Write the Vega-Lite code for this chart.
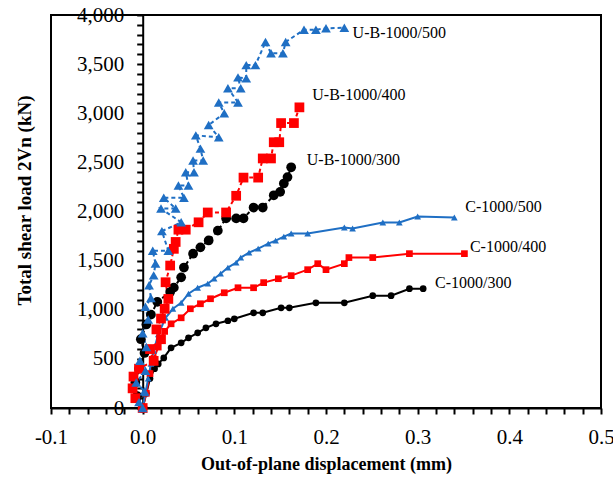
{
  "$schema": "https://vega.github.io/schema/vega-lite/v6.json",
  "width": 550,
  "height": 393,
  "autosize": {"type": "none"},
  "padding": {"left": 51, "top": 15, "right": 12, "bottom": 87},
  "background": "white",
  "config": {"view": {"stroke": "black", "strokeWidth": 2}, "font": "Liberation Serif"},
  "datasets": {
    "curves": [
      {"series": "C-1000/300", "x": 0, "y": 0},
      {"series": "C-1000/300", "x": 0.004, "y": 150},
      {"series": "C-1000/300", "x": 0.008, "y": 300},
      {"series": "C-1000/300", "x": 0.013, "y": 400},
      {"series": "C-1000/300", "x": 0.017, "y": 449},
      {"series": "C-1000/300", "x": 0.023, "y": 510},
      {"series": "C-1000/300", "x": 0.031, "y": 612},
      {"series": "C-1000/300", "x": 0.042, "y": 663},
      {"series": "C-1000/300", "x": 0.05, "y": 714},
      {"series": "C-1000/300", "x": 0.06, "y": 765},
      {"series": "C-1000/300", "x": 0.069, "y": 816},
      {"series": "C-1000/300", "x": 0.08, "y": 857},
      {"series": "C-1000/300", "x": 0.093, "y": 888},
      {"series": "C-1000/300", "x": 0.1, "y": 908},
      {"series": "C-1000/300", "x": 0.121, "y": 969},
      {"series": "C-1000/300", "x": 0.131, "y": 969},
      {"series": "C-1000/300", "x": 0.151, "y": 1020},
      {"series": "C-1000/300", "x": 0.16, "y": 1020},
      {"series": "C-1000/300", "x": 0.189, "y": 1071},
      {"series": "C-1000/300", "x": 0.22, "y": 1071},
      {"series": "C-1000/300", "x": 0.251, "y": 1143},
      {"series": "C-1000/300", "x": 0.271, "y": 1143},
      {"series": "C-1000/300", "x": 0.291, "y": 1214},
      {"series": "C-1000/300", "x": 0.306, "y": 1214},
      {"series": "C-1000/400", "x": 0, "y": 0},
      {"series": "C-1000/400", "x": 0.004, "y": 150},
      {"series": "C-1000/400", "x": 0.008, "y": 350},
      {"series": "C-1000/400", "x": 0.012, "y": 500},
      {"series": "C-1000/400", "x": 0.017, "y": 620},
      {"series": "C-1000/400", "x": 0.02, "y": 704},
      {"series": "C-1000/400", "x": 0.024, "y": 780},
      {"series": "C-1000/400", "x": 0.031, "y": 857},
      {"series": "C-1000/400", "x": 0.042, "y": 918},
      {"series": "C-1000/400", "x": 0.052, "y": 1010},
      {"series": "C-1000/400", "x": 0.063, "y": 1061},
      {"series": "C-1000/400", "x": 0.074, "y": 1112},
      {"series": "C-1000/400", "x": 0.089, "y": 1173},
      {"series": "C-1000/400", "x": 0.104, "y": 1224},
      {"series": "C-1000/400", "x": 0.121, "y": 1224},
      {"series": "C-1000/400", "x": 0.132, "y": 1276},
      {"series": "C-1000/400", "x": 0.148, "y": 1316},
      {"series": "C-1000/400", "x": 0.162, "y": 1347},
      {"series": "C-1000/400", "x": 0.18, "y": 1408},
      {"series": "C-1000/400", "x": 0.191, "y": 1469},
      {"series": "C-1000/400", "x": 0.2, "y": 1408},
      {"series": "C-1000/400", "x": 0.22, "y": 1469},
      {"series": "C-1000/400", "x": 0.225, "y": 1531},
      {"series": "C-1000/400", "x": 0.251, "y": 1531},
      {"series": "C-1000/400", "x": 0.291, "y": 1571},
      {"series": "C-1000/400", "x": 0.351, "y": 1571},
      {"series": "C-1000/500", "x": 0, "y": 0},
      {"series": "C-1000/500", "x": 0.003, "y": 150},
      {"series": "C-1000/500", "x": 0.006, "y": 300},
      {"series": "C-1000/500", "x": 0.009, "y": 450},
      {"series": "C-1000/500", "x": 0.012, "y": 582},
      {"series": "C-1000/500", "x": 0.017, "y": 750},
      {"series": "C-1000/500", "x": 0.025, "y": 918},
      {"series": "C-1000/500", "x": 0.033, "y": 1010},
      {"series": "C-1000/500", "x": 0.042, "y": 1071},
      {"series": "C-1000/500", "x": 0.05, "y": 1163},
      {"series": "C-1000/500", "x": 0.06, "y": 1224},
      {"series": "C-1000/500", "x": 0.071, "y": 1265},
      {"series": "C-1000/500", "x": 0.078, "y": 1316},
      {"series": "C-1000/500", "x": 0.085, "y": 1367},
      {"series": "C-1000/500", "x": 0.093, "y": 1429},
      {"series": "C-1000/500", "x": 0.102, "y": 1480},
      {"series": "C-1000/500", "x": 0.107, "y": 1531},
      {"series": "C-1000/500", "x": 0.116, "y": 1582},
      {"series": "C-1000/500", "x": 0.126, "y": 1622},
      {"series": "C-1000/500", "x": 0.137, "y": 1673},
      {"series": "C-1000/500", "x": 0.145, "y": 1704},
      {"series": "C-1000/500", "x": 0.154, "y": 1745},
      {"series": "C-1000/500", "x": 0.162, "y": 1776},
      {"series": "C-1000/500", "x": 0.18, "y": 1776},
      {"series": "C-1000/500", "x": 0.22, "y": 1837},
      {"series": "C-1000/500", "x": 0.229, "y": 1827},
      {"series": "C-1000/500", "x": 0.262, "y": 1888},
      {"series": "C-1000/500", "x": 0.28, "y": 1888},
      {"series": "C-1000/500", "x": 0.3, "y": 1949},
      {"series": "C-1000/500", "x": 0.34, "y": 1939},
      {"series": "U-B-1000/300", "x": 0, "y": 0},
      {"series": "U-B-1000/300", "x": -0.006, "y": 120},
      {"series": "U-B-1000/300", "x": -0.008, "y": 260},
      {"series": "U-B-1000/300", "x": -0.004, "y": 400},
      {"series": "U-B-1000/300", "x": 0.002, "y": 560},
      {"series": "U-B-1000/300", "x": -0.002, "y": 700},
      {"series": "U-B-1000/300", "x": 0.004, "y": 850},
      {"series": "U-B-1000/300", "x": 0.009, "y": 950},
      {"series": "U-B-1000/300", "x": 0.016, "y": 1080},
      {"series": "U-B-1000/300", "x": 0.03, "y": 1180},
      {"series": "U-B-1000/300", "x": 0.034, "y": 1225},
      {"series": "U-B-1000/300", "x": 0.042, "y": 1330},
      {"series": "U-B-1000/300", "x": 0.045, "y": 1430},
      {"series": "U-B-1000/300", "x": 0.055, "y": 1570},
      {"series": "U-B-1000/300", "x": 0.063, "y": 1635},
      {"series": "U-B-1000/300", "x": 0.072, "y": 1705},
      {"series": "U-B-1000/300", "x": 0.082, "y": 1805},
      {"series": "U-B-1000/300", "x": 0.091, "y": 1930},
      {"series": "U-B-1000/300", "x": 0.102, "y": 1930},
      {"series": "U-B-1000/300", "x": 0.11, "y": 1930},
      {"series": "U-B-1000/300", "x": 0.121, "y": 2040},
      {"series": "U-B-1000/300", "x": 0.131, "y": 2040},
      {"series": "U-B-1000/300", "x": 0.143, "y": 2165},
      {"series": "U-B-1000/300", "x": 0.15, "y": 2200},
      {"series": "U-B-1000/300", "x": 0.154, "y": 2285},
      {"series": "U-B-1000/300", "x": 0.158, "y": 2350},
      {"series": "U-B-1000/300", "x": 0.162, "y": 2450},
      {"series": "U-B-1000/400", "x": 0, "y": 0},
      {"series": "U-B-1000/400", "x": -0.008, "y": 100},
      {"series": "U-B-1000/400", "x": -0.011, "y": 200},
      {"series": "U-B-1000/400", "x": -0.01, "y": 320},
      {"series": "U-B-1000/400", "x": -0.004, "y": 400},
      {"series": "U-B-1000/400", "x": 0.012, "y": 480},
      {"series": "U-B-1000/400", "x": 0.008, "y": 600},
      {"series": "U-B-1000/400", "x": 0.02, "y": 700},
      {"series": "U-B-1000/400", "x": 0.015, "y": 800},
      {"series": "U-B-1000/400", "x": 0.02, "y": 910},
      {"series": "U-B-1000/400", "x": 0.024, "y": 1010},
      {"series": "U-B-1000/400", "x": 0.028, "y": 1110},
      {"series": "U-B-1000/400", "x": 0.025, "y": 1280},
      {"series": "U-B-1000/400", "x": 0.03, "y": 1450},
      {"series": "U-B-1000/400", "x": 0.034, "y": 1620},
      {"series": "U-B-1000/400", "x": 0.036, "y": 1690},
      {"series": "U-B-1000/400", "x": 0.039, "y": 1815},
      {"series": "U-B-1000/400", "x": 0.047, "y": 1815},
      {"series": "U-B-1000/400", "x": 0.061, "y": 1890},
      {"series": "U-B-1000/400", "x": 0.071, "y": 1990},
      {"series": "U-B-1000/400", "x": 0.091, "y": 1990},
      {"series": "U-B-1000/400", "x": 0.102, "y": 2160},
      {"series": "U-B-1000/400", "x": 0.11, "y": 2345},
      {"series": "U-B-1000/400", "x": 0.126, "y": 2345},
      {"series": "U-B-1000/400", "x": 0.131, "y": 2540},
      {"series": "U-B-1000/400", "x": 0.14, "y": 2540},
      {"series": "U-B-1000/400", "x": 0.143, "y": 2705},
      {"series": "U-B-1000/400", "x": 0.149, "y": 2705},
      {"series": "U-B-1000/400", "x": 0.151, "y": 2900},
      {"series": "U-B-1000/400", "x": 0.165, "y": 2900},
      {"series": "U-B-1000/400", "x": 0.171, "y": 3060},
      {"series": "U-B-1000/500", "x": 0, "y": 0},
      {"series": "U-B-1000/500", "x": -0.004, "y": 60},
      {"series": "U-B-1000/500", "x": 0.002, "y": 170},
      {"series": "U-B-1000/500", "x": -0.007, "y": 260},
      {"series": "U-B-1000/500", "x": 0.003, "y": 380},
      {"series": "U-B-1000/500", "x": -0.003, "y": 480},
      {"series": "U-B-1000/500", "x": 0.004, "y": 620},
      {"series": "U-B-1000/500", "x": 0, "y": 760},
      {"series": "U-B-1000/500", "x": 0.006, "y": 900},
      {"series": "U-B-1000/500", "x": 0.003, "y": 1030},
      {"series": "U-B-1000/500", "x": 0.009, "y": 1120},
      {"series": "U-B-1000/500", "x": 0.007, "y": 1250},
      {"series": "U-B-1000/500", "x": 0.012, "y": 1350},
      {"series": "U-B-1000/500", "x": 0.014, "y": 1470},
      {"series": "U-B-1000/500", "x": 0.011, "y": 1600},
      {"series": "U-B-1000/500", "x": 0.028, "y": 1600},
      {"series": "U-B-1000/500", "x": 0.021, "y": 1800},
      {"series": "U-B-1000/500", "x": 0.042, "y": 1890},
      {"series": "U-B-1000/500", "x": 0.02, "y": 2030},
      {"series": "U-B-1000/500", "x": 0.036, "y": 2030},
      {"series": "U-B-1000/500", "x": 0.023, "y": 2140},
      {"series": "U-B-1000/500", "x": 0.045, "y": 2140},
      {"series": "U-B-1000/500", "x": 0.039, "y": 2265},
      {"series": "U-B-1000/500", "x": 0.05, "y": 2265},
      {"series": "U-B-1000/500", "x": 0.047, "y": 2400},
      {"series": "U-B-1000/500", "x": 0.056, "y": 2400},
      {"series": "U-B-1000/500", "x": 0.055, "y": 2520},
      {"series": "U-B-1000/500", "x": 0.066, "y": 2520},
      {"series": "U-B-1000/500", "x": 0.063, "y": 2640},
      {"series": "U-B-1000/500", "x": 0.058, "y": 2775},
      {"series": "U-B-1000/500", "x": 0.083, "y": 2755},
      {"series": "U-B-1000/500", "x": 0.072, "y": 2880},
      {"series": "U-B-1000/500", "x": 0.089, "y": 3000},
      {"series": "U-B-1000/500", "x": 0.083, "y": 3110},
      {"series": "U-B-1000/500", "x": 0.104, "y": 3110},
      {"series": "U-B-1000/500", "x": 0.093, "y": 3255},
      {"series": "U-B-1000/500", "x": 0.107, "y": 3255},
      {"series": "U-B-1000/500", "x": 0.104, "y": 3365},
      {"series": "U-B-1000/500", "x": 0.113, "y": 3355},
      {"series": "U-B-1000/500", "x": 0.113, "y": 3490},
      {"series": "U-B-1000/500", "x": 0.123, "y": 3490},
      {"series": "U-B-1000/500", "x": 0.134, "y": 3725},
      {"series": "U-B-1000/500", "x": 0.14, "y": 3610},
      {"series": "U-B-1000/500", "x": 0.153, "y": 3610},
      {"series": "U-B-1000/500", "x": 0.156, "y": 3725},
      {"series": "U-B-1000/500", "x": 0.176, "y": 3850},
      {"series": "U-B-1000/500", "x": 0.189, "y": 3850},
      {"series": "U-B-1000/500", "x": 0.2, "y": 3865},
      {"series": "U-B-1000/500", "x": 0.22, "y": 3870}
    ],
    "labels": [
      {"label": "U-B-1000/500", "x": 0.229, "y": 3817},
      {"label": "U-B-1000/400", "x": 0.185, "y": 3186},
      {"label": "U-B-1000/300", "x": 0.179, "y": 2524},
      {"label": "C-1000/500", "x": 0.352, "y": 2046},
      {"label": "C-1000/400", "x": 0.357, "y": 1639},
      {"label": "C-1000/300", "x": 0.319, "y": 1272}
    ]
  },
  "layer": [
    {
      "data": {"name": "curves"},
      "transform": [{"filter": "indexof(datum.series, 'C-') == 0"}],
      "mark": {"type": "line", "strokeWidth": 2},
      "encoding": {
        "x": {
          "field": "x",
          "type": "quantitative",
          "scale": {"domain": [-0.1, 0.5], "nice": false, "zero": false},
          "axis": {
            "values": [-0.1, -0.08, -0.06, -0.04, -0.02, 0, 0.02, 0.04, 0.06, 0.08, 0.1, 0.12, 0.14, 0.16, 0.18, 0.2, 0.22, 0.24, 0.26, 0.28, 0.3, 0.32, 0.34, 0.36, 0.38, 0.4, 0.42, 0.44, 0.46, 0.48, 0.5],
            "tickCount": 100,
            "labelExpr": "abs(datum.value*10 - round(datum.value*10)) < 0.001 ? replace(format(datum.value, '.1f'), '\u2212', '-') : ''",
            "grid": false,
            "tickSize": 6,
            "tickWidth": 2,
            "tickColor": "black",
            "domainColor": "black",
            "domainWidth": 2,
            "labelFont": "Liberation Serif",
            "labelFontSize": 21,
            "labelColor": "black",
            "labelPadding": 12,
            "labelFlush": false,
            "labelOverlap": false,
            "labelBound": false,
            "title": "Out-of-plane displacement (mm)",
            "titleFont": "Liberation Serif",
            "titleFontSize": 18,
            "titleFontWeight": "bold",
            "titleColor": "black",
            "titlePadding": 8
          }
        },
        "y": {
          "field": "y",
          "type": "quantitative",
          "scale": {"domain": [0, 4000], "nice": false, "zero": false},
          "axis": {
            "values": [0, 100, 200, 300, 400, 500, 600, 700, 800, 900, 1000, 1100, 1200, 1300, 1400, 1500, 1600, 1700, 1800, 1900, 2000, 2100, 2200, 2300, 2400, 2500, 2600, 2700, 2800, 2900, 3000, 3100, 3200, 3300, 3400, 3500, 3600, 3700, 3800, 3900, 4000],
            "tickCount": 100,
            "labelExpr": "datum.value % 500 == 0 ? format(datum.value, ',') : ''",
            "offset": -91.7,
            "grid": false,
            "tickSize": 6,
            "tickWidth": 2,
            "tickColor": "black",
            "domainColor": "black",
            "domainWidth": 2,
            "labelFont": "Liberation Serif",
            "labelFontSize": 21,
            "labelColor": "black",
            "labelPadding": 13,
            "labelOverlap": false,
            "labelBound": false,
            "labelFlush": false,
            "title": "Total shear load   2Vn (kN)",
            "titleFont": "Liberation Serif",
            "titleFontSize": 19,
            "titleFontWeight": "bold",
            "titleColor": "black",
            "titleAngle": 270,
            "titleAlign": "center",
            "titleBaseline": "middle",
            "titleX": -118.7,
            "titleY": 185
          }
        },
        "color": {"field": "series", "type": "nominal", "legend": null,
          "scale": {"domain": ["C-1000/300", "C-1000/400", "C-1000/500", "U-B-1000/300", "U-B-1000/400", "U-B-1000/500"], "range": ["#000000", "#ff0000", "#1f6fc4", "#000000", "#ff0000", "#1f6fc4"]}},
        "order": {"value": null}
      }
    },
    {
      "data": {"name": "curves"},
      "transform": [{"filter": "indexof(datum.series, 'C-') == 0"}],
      "mark": {"type": "point", "filled": true, "opacity": 1, "size": 45},
      "encoding": {
        "x": {"field": "x", "type": "quantitative"},
        "y": {"field": "y", "type": "quantitative"},
        "color": {"field": "series", "type": "nominal", "legend": null},
        "shape": {"field": "series", "type": "nominal", "legend": null,
          "scale": {"domain": ["C-1000/300", "C-1000/400", "C-1000/500", "U-B-1000/300", "U-B-1000/400", "U-B-1000/500"], "range": ["circle", "square", "triangle-up", "circle", "square", "triangle-up"]}}
      }
    },
    {
      "data": {"name": "curves"},
      "transform": [{"filter": "indexof(datum.series, 'U-B') == 0"}],
      "mark": {"type": "line", "strokeWidth": 2, "strokeDash": [4, 3]},
      "encoding": {
        "x": {"field": "x", "type": "quantitative"},
        "y": {"field": "y", "type": "quantitative"},
        "color": {"field": "series", "type": "nominal", "legend": null},
        "order": {"value": null}
      }
    },
    {
      "data": {"name": "curves"},
      "transform": [{"filter": "indexof(datum.series, 'U-B') == 0"}],
      "mark": {"type": "point", "filled": true, "opacity": 1, "size": 95},
      "encoding": {
        "x": {"field": "x", "type": "quantitative"},
        "y": {"field": "y", "type": "quantitative"},
        "color": {"field": "series", "type": "nominal", "legend": null},
        "shape": {"field": "series", "type": "nominal", "legend": null}
      }
    },
    {
      "data": {"name": "labels"},
      "mark": {"type": "text", "align": "left", "baseline": "middle", "font": "Liberation Serif", "fontSize": 16, "color": "black"},
      "encoding": {
        "x": {"field": "x", "type": "quantitative"},
        "y": {"field": "y", "type": "quantitative"},
        "text": {"field": "label", "type": "nominal"}
      }
    }
  ]
}
